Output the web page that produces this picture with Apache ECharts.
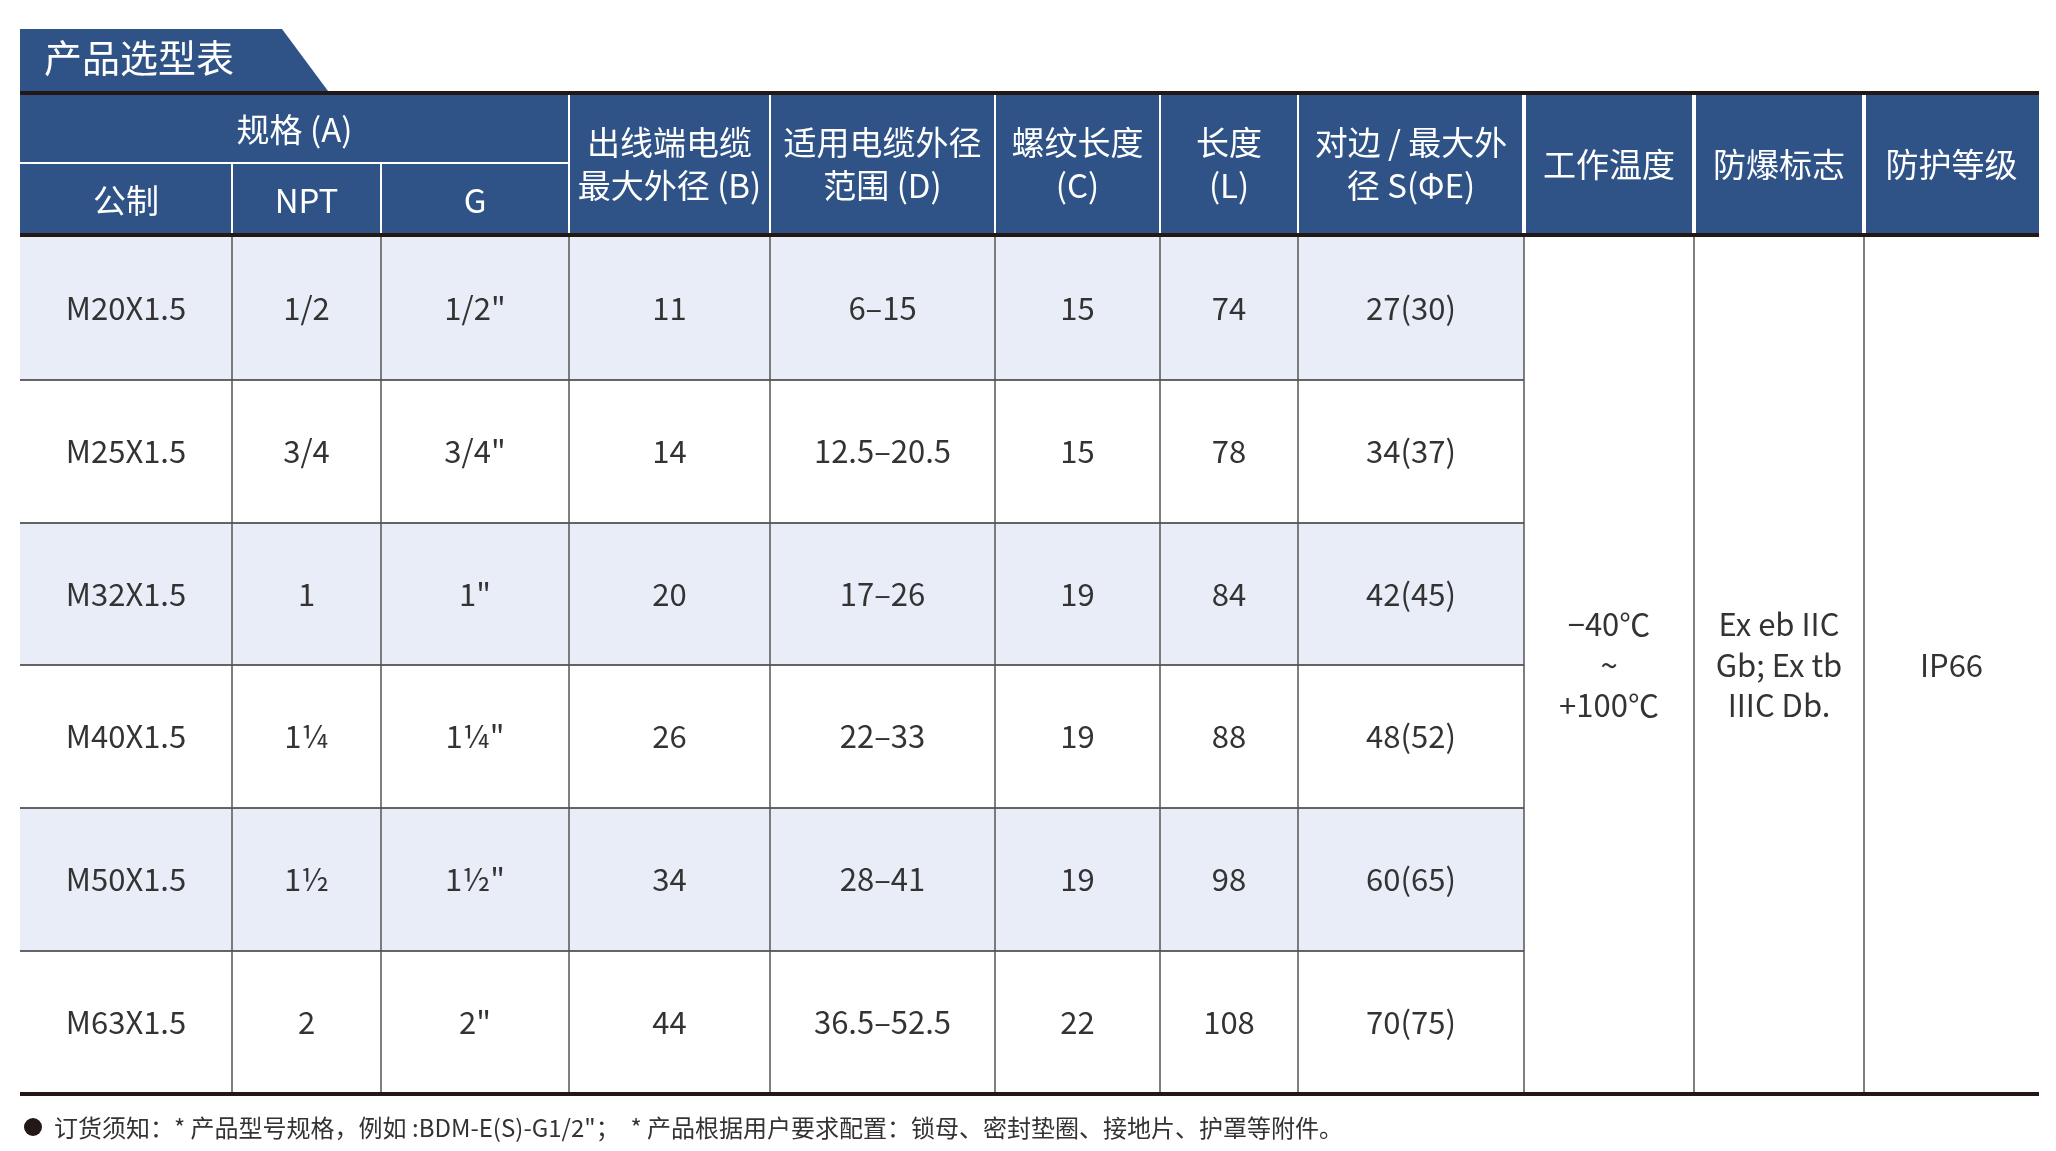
<!DOCTYPE html>
<html>
<head>
<meta charset="utf-8">
<script src="https://cdn.jsdelivr.net/npm/echarts@6/dist/echarts.min.js"></script>
<style>html,body{margin:0;background:#fff}#c{width:2056px;height:1151px}</style>
</head>
<body>
<div id="c"></div>
<script>
// data
var title = '产品选型表';
var specHeader = '规格 (A)';
var subHeaders = ['公制', 'NPT', 'G'];
var headers = ['出线端电缆\n最大外径 (B)', '适用电缆外径\n范围 (D)', '螺纹长度\n(C)', '长度\n(L)', '对边 / 最大外\n径 S(ΦE)', '工作温度', '防爆标志', '防护等级'];
var metric = ['M20X1.5', 'M25X1.5', 'M32X1.5', 'M40X1.5', 'M50X1.5', 'M63X1.5'];
var npt = ['1/2', '3/4', '1', '1¼', '1½', '2'];
var gThread = ['1/2"', '3/4"', '1"', '1¼"', '1½"', '2"'];
var maxB = ['11', '14', '20', '26', '34', '44'];
var rangeD = ['6–15', '12.5–20.5', '17–26', '22–33', '28–41', '36.5–52.5'];
var threadC = ['15', '15', '19', '19', '19', '22'];
var lengthL = ['74', '78', '84', '88', '98', '108'];
var sizeS = ['27(30)', '34(37)', '42(45)', '48(52)', '60(65)', '70(75)'];
var merged = ['−40℃\n~\n+100℃', 'Ex eb IIC\nGb; Ex tb\nIIIC Db.', 'IP66'];
var note = '订货须知：* 产品型号规格，例如 :BDM-E(S)-G1/2"；  * 产品根据用户要求配置：锁母、密封垫圈、接地片、护罩等附件。';

// layout
var colX = [20, 232, 381, 569, 770, 995, 1160, 1298, 1524, 1694, 1864, 2039];
var hTop = 95, hMid = 163, hBot = 233;
var rowY = [237, 380, 523, 665, 808, 951, 1093];
var blue = '#2f5386', stripe = '#e8edf8', dark = '#231815';
var font = '"Noto Sans CJK SC", "Noto Sans", sans-serif';

var g = [];
function rect(x, y, w, h, fill) { g.push({type: 'rect', shape: {x: x, y: y, width: w, height: h}, style: {fill: fill}}); }
function line(x1, y1, x2, y2, c, w) { g.push({type: 'line', shape: {x1: x1, y1: y1, x2: x2, y2: y2}, style: {stroke: c, lineWidth: w}}); }
function text(s, x, y, size, color, align) {
  g.push({type: 'text', x: x, y: y, style: {text: s, fill: color, font: size + 'px ' + font, align: align || 'center', verticalAlign: 'middle', lineHeight: size * 1.3}});
}

// title tab
g.push({type: 'polygon', shape: {points: [[20, 29], [282, 29], [328, 91], [20, 91]]}, style: {fill: blue}});
text(title, 44, 58, 38, '#fff', 'left');

// header
rect(colX[0], hTop, colX[11] - colX[0], hBot - hTop, blue);
text(specHeader, (colX[0] + colX[3]) / 2, (hTop + hMid) / 2, 33, '#fff');
line(colX[0], hMid, colX[3], hMid, '#fff', 2);
for (var i = 0; i < 3; i++) text(subHeaders[i], (colX[i] + colX[i + 1]) / 2, (hMid + hBot) / 2 + 2, 33, '#fff');
for (var i = 0; i < headers.length; i++) text(headers[i], (colX[i + 3] + colX[i + 4]) / 2, (hTop + hBot) / 2, 33, '#fff');
for (var i = 1; i < 11; i++) line(colX[i], i < 3 ? hMid : hTop, colX[i], hBot, '#fff', i >= 8 ? 4 : 2);

// body
var cols = [metric, npt, gThread, maxB, rangeD, threadC, lengthL, sizeS];
for (var r = 0; r < metric.length; r++) {
  if (r % 2 === 0) rect(colX[0], rowY[r], colX[8] - colX[0], rowY[r + 1] - rowY[r], stripe);
  for (var c = 0; c < cols.length; c++) text(cols[c][r], (colX[c] + colX[c + 1]) / 2, (rowY[r] + rowY[r + 1]) / 2, 31, '#333');
  if (r > 0) line(colX[0], rowY[r], colX[8], rowY[r], '#333', 1.5);
}
for (var i = 0; i < merged.length; i++) text(merged[i], (colX[i + 8] + colX[i + 9]) / 2, (rowY[0] + rowY[6]) / 2, 31, '#333');
for (var i = 1; i < 11; i++) line(colX[i], rowY[0], colX[i], rowY[6], '#555', 1.5);

// thick rules
line(colX[0], 93, colX[11], 93, dark, 4);
line(colX[0], 235, colX[11], 235, dark, 4);
line(colX[0], 1094, colX[11], 1094, dark, 4);

// footnote
g.push({type: 'circle', shape: {cx: 33, cy: 1127, r: 9}, style: {fill: dark}});
text(note, 54, 1128, 24, '#333', 'left');

var chart = echarts.init(document.getElementById('c'));
chart.setOption({backgroundColor: '#fff', graphic: g});
</script>
</body>
</html>
